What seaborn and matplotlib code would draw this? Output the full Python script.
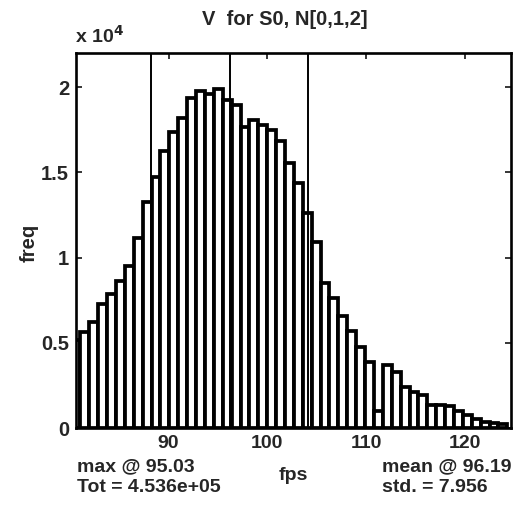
import matplotlib
matplotlib.use("Agg")
import matplotlib.pyplot as plt
import seaborn as sns
import numpy as np
import pandas as pd

# ---- data ----
bin_centers = [80.63, 81.53, 82.43, 83.33, 84.23, 85.13, 86.03, 86.93, 87.83, 88.73,
               89.63, 90.53, 91.43, 92.33, 93.23, 94.13, 95.03, 95.93, 96.83, 97.73,
               98.63, 99.53, 100.43, 101.33, 102.23, 103.13, 104.03, 104.93, 105.83, 106.73,
               107.63, 108.53, 109.43, 110.33, 111.23, 112.13, 113.03, 113.93, 114.83, 115.73,
               116.63, 117.53, 118.43, 119.33, 120.23, 121.13, 122.03, 122.93, 123.83]
counts = [5170, 5650, 6230, 7270, 7890, 8630, 9490, 11160, 13240, 14700,
          16260, 17390, 18200, 19370, 19800, 19600, 19860, 19220, 18940, 17660,
          18050, 17780, 17480, 16840, 15570, 14350, 12620, 10910, 8510, 7600,
          6590, 5690, 4780, 3860, 980, 3710, 3300, 2380, 2130, 1920,
          1370, 1330, 1270, 980, 790, 540, 350, 300, 250]
bin_width = 0.9
mean_val = 96.19
std_val = 7.956
stat_lines = [mean_val - std_val, mean_val, mean_val + std_val]
x_ticks = [90, 100, 110, 120]
x_tick_labels = ["90", "100", "110", "120"]
y_ticks = [0, 5000, 10000, 15000, 20000]
y_tick_labels = ["0", "0.5", "1", "1.5", "2"]
title_text = "V  for S0, N[0,1,2]"
left_notes = ["max @ 95.03", "Tot = 4.536e+05"]
right_notes = ["mean @ 96.19", "std. = 7.956"]

# ---- style ----
sns.set_style("white")
plt.rcParams["font.family"] = ["Liberation Sans", "DejaVu Sans"]
plt.rcParams["font.weight"] = "bold"

W, H = 525, 511
fig = plt.figure(figsize=(W / 100, H / 100), dpi=100)
ax = fig.add_axes([76 / W, 1 - 428 / H, (510.5 - 76) / W, (428 - 53) / H])

df = pd.DataFrame({"fps": bin_centers, "freq": counts})
edges = [c - bin_width / 2 for c in bin_centers] + [bin_centers[-1] + bin_width / 2]
sns.histplot(data=df, x="fps", weights="freq", bins=edges, stat="count",
             element="bars", fill=True, color="white", edgecolor="black",
             linewidth=2.7, alpha=1, ax=ax)

for v in stat_lines:
    ax.axvline(v, color="black", linewidth=1.4, zorder=5)

ax.set_xlim(80.63, 124.6)
ax.set_ylim(0, 22000)
ax.set_xticks(x_ticks)
ax.set_xticklabels(x_tick_labels, fontsize=14, fontweight="bold")
ax.set_yticks(y_ticks)
ax.set_yticklabels(y_tick_labels, fontsize=14.5, fontweight="bold")
ax.tick_params(axis="x", direction="in", length=4, width=1.3, top=True, bottom=True, pad=5)
ax.tick_params(axis="y", direction="in", length=4, width=1.3, left=True, right=True, pad=5)
ax.set_xlabel("")
ax.set_ylabel("")
for s in ax.spines.values():
    s.set_color("black")
    s.set_linewidth(1.9)

# ---- texts ----
def ft(x, y, s, **kw):
    fig.text(x / W, 1 - y / H, s, fontweight="bold", **kw)

ft(285, 19, title_text, ha="center", va="center", fontsize=14.5)
ft(75, 36, r"x 10$^{\mathbf{4}}$", ha="left", va="center", fontsize=14)
ft(29, 243, "freq", ha="center", va="center", rotation=90, fontsize=14.5)
ft(293, 475, "fps", ha="center", va="center", fontsize=14)
ft(77, 467, left_notes[0], ha="left", va="center", fontsize=14)
ft(77, 488, left_notes[1], ha="left", va="center", fontsize=14)
ft(382, 467, right_notes[0], ha="left", va="center", fontsize=14)
ft(382, 488, right_notes[1], ha="left", va="center", fontsize=14)

fig.savefig("out.png", dpi=100)
